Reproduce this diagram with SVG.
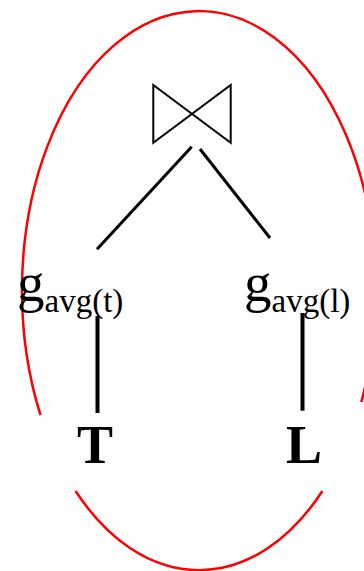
<svg xmlns="http://www.w3.org/2000/svg" width="364" height="571" viewBox="0 0 364 571">
<style>
.txt{font-family:"Liberation Serif","Times New Roman",serif;fill:#000}
.big{font-size:55px}
.sub{font-size:33px}
.rel{font-size:54px;font-weight:bold}
.edge{stroke:#000;fill:none;stroke-linecap:butt}
.ring{stroke:#ff0000;stroke-width:2.5;fill:none}
</style>
<g id="boundary">
<path class="ring" d="M40.5,415 A177,279.5 0 1 1 361.3,402"/>
<path class="ring" d="M75.6,491 A177,279.5 0 0 0 322.4,491"/>
</g>
<g id="connectors">
<line class="edge" stroke-width="3" x1="191.7" y1="146.7" x2="97" y2="249.3"/>
<line class="edge" stroke-width="3" x1="200" y1="149" x2="270" y2="238"/>
<line class="edge" stroke-width="4" x1="97.5" y1="316" x2="97.5" y2="413"/>
<line class="edge" stroke-width="4" x1="302.5" y1="313" x2="302.5" y2="410.7"/>
</g>
<g id="join">
<path d="M153.3,85 L230.7,142.7 L230.7,85 L153.3,142.7 Z" fill="none" stroke="#000" stroke-width="2" stroke-linejoin="miter"/>
</g>
<g id="agg-t">
<text class="txt" x="17" y="301"><tspan class="big">g</tspan><tspan class="sub" dy="11">avg(t)</tspan></text>
</g>
<g id="agg-l">
<text class="txt" x="244" y="301"><tspan class="big">g</tspan><tspan class="sub" dy="11">avg(l)</tspan></text>
</g>
<g id="rel-T">
<text class="txt rel" x="77" y="463">T</text>
</g>
<g id="rel-L">
<text class="txt rel" x="286" y="463">L</text>
</g>
</svg>
